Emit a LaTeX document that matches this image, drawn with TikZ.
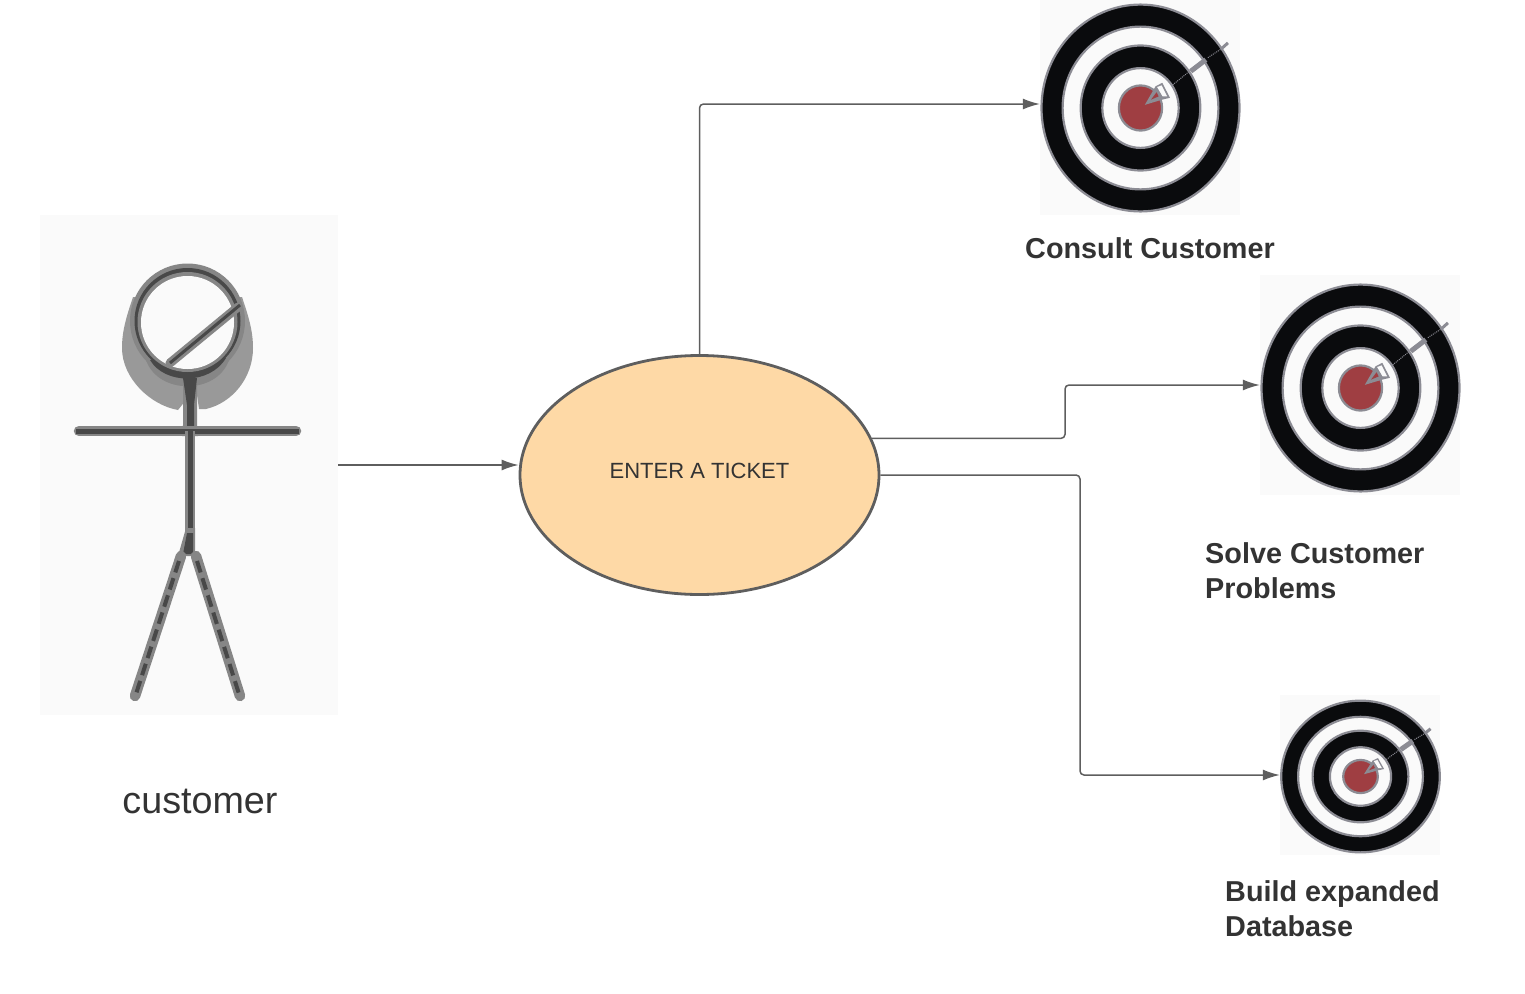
\documentclass[tikz,border=0pt]{standalone}
\usepackage{fontspec}
\setmainfont{Liberation Sans}
\usetikzlibrary{arrows.meta,shapes.geometric}

\definecolor{paper}{HTML}{FAFAFA}
\definecolor{ringblack}{HTML}{0A0B0D}
\definecolor{ringgray}{HTML}{8C8C94}
\definecolor{bullred}{HTML}{9F3E42}
\definecolor{halo}{HTML}{999999}
\definecolor{limbgray}{HTML}{868686}
\definecolor{limbdark}{HTML}{484848}
\definecolor{wire}{HTML}{5E5E5E}
\definecolor{txt}{HTML}{333333}
\definecolor{peach}{HTML}{FED9A6}

\tikzset{
  imgbox/.style={fill=paper,draw=none,inner sep=0pt},
  limbout/.style={limbgray,line width=10.5pt,line cap=round},
  limbin/.style={limbdark,line width=5pt},
  ring/.style={draw=ringgray,line width=2.2pt},
  link/.style={wire,line width=1.5pt,rounded corners=4pt,-{Latex[length=17pt,width=11pt]}},
  goal/.style={anchor=west,align=left,font=\bfseries\fontsize{28.8}{35}\selectfont,text=txt,inner sep=0pt},
  bullseye/.pic={
    \fill[ringblack,ring] (0,0) circle (98.5);
    \fill[paper,ring] (0,0) circle (77.5);
    \fill[ringblack,ring] (0,0) circle (59.5);
    \fill[paper,ring] (0,0) circle (38);
    \fill[bullred,ring] (0,0) circle (21.5);
    % the arrow stuck in the bull
    \fill[ringgray] (4.3,-3) -- (15,-20.7) -- (21.7,-24) -- (29.3,-9.7) -- (21.7,-8) -- cycle;
    \fill[paper] (16.5,-20) -- (21,-21.5) -- (26.5,-11) -- (22,-11) -- cycle;
    \fill[bullred] (10.5,-8) -- (16,-15) -- (18,-11) -- cycle;
    \draw[ringgray,line width=1pt,densely dotted] (32,-22) -- (50,-36);
    \draw[ringgray,line width=5pt] (50,-35) -- (65,-46);
    \draw[ringgray,line width=1pt,densely dotted] (67,-48) -- (80,-56);
    \draw[ringgray,line width=3pt] (80,-56) -- (87,-62);
  }
}

\begin{document}
\begin{tikzpicture}[x=1pt,y=-1pt]
\useasboundingbox (0,0) rectangle (1525,993);

\node[imgbox,minimum width=298pt,minimum height=500pt] (actor) at (189,465) {};
\node[imgbox,minimum width=200pt,minimum height=215pt] (t1) at (1140,107.5) {};
\node[imgbox,minimum width=200pt,minimum height=220pt] (t2) at (1360,385) {};
\node[imgbox,minimum width=160pt,minimum height=160pt] (t3) at (1360,775) {};

\node[ellipse,draw=wire,line width=2.8pt,fill=peach,minimum width=359pt,minimum height=239pt,inner sep=0pt] (tkt) at (699.5,475) {};
\node[text=txt,font=\fontsize{22}{26}\selectfont,inner sep=0pt] (tktlab) at (699.5,471) {ENTER A TICKET};

% stick figure
\fill[halo] (133,297) .. controls (127,315) and (122,330) .. (122,348)
  .. controls (122,378) and (150,405) .. (178,410) -- (186,400) -- (197,395) -- (199,409) -- (206,409)
  .. controls (232,403) and (253,378) .. (253,348)
  .. controls (253,330) and (248,315) .. (242,297) -- cycle;
\fill[limbgray] (187.5,321) circle (57.5);
\fill[limbgray] (146,360) .. controls (158,395) and (217,395) .. (229,360) -- cycle;
\fill[limbdark] (187.5,321) circle (53);
\fill[limbdark] (150,360) .. controls (165,385) and (210,385) .. (226,358) -- cycle;
\fill[limbgray] (187.5,322) circle (50);
\fill[paper] (187.5,322.5) circle (46.5);
\draw[limbgray,line width=9pt,line cap=round] (170,363) -- (238,307);
\draw[limbdark,line width=3pt] (170,363) -- (240,305);
\fill[limbgray] (183,382) -- (197,382) -- (197,425) -- (198,436) -- (182,436) -- (183,425) -- cycle;
\fill[limbdark] (183,378) -- (197,378) -- (194,405) -- (194,432) -- (187,432) -- (187,405) -- cycle;
\draw[limbout] (79,431) -- (296,431);
\draw[limbin] (76,431) -- (299,431);
\draw[limbgray,line width=10pt] (190,431) -- (190,545);
\draw[limbin] (190,431) -- (190,545);
\fill[limbgray] (186,528) -- (195,528) -- (195,556) -- (178,556) -- cycle;
\fill[limbdark] (187,533) -- (193,533) -- (193,554) -- (183,554) -- cycle;
\draw[limbout] (181,556) -- (135,696);
\draw[limbout] (196,556) -- (240,696);
\draw[limbdark,line width=4pt,dash pattern=on 12pt off 6pt] (179,561) -- (136,694);
\draw[limbdark,line width=4pt,dash pattern=on 12pt off 6pt] (197,561) -- (239,694);

% targets
\pic[xscale=1.005,yscale=1.05] at (1140.5,108) {bullseye};
\pic[xscale=1.005,yscale=1.05] at (1360.5,388) {bullseye};
\pic[xscale=0.805,yscale=0.77] at (1360.5,776.5) {bullseye};

% labels
\node[text=txt,font=\fontsize{37.7}{42}\selectfont,inner sep=0pt] (custlab) at (200,801.5) {customer};
\node[goal] (goal1) at (1025,248.5) {Consult Customer};
\node[goal] (goal2) at (1205,570.5) {Solve Customer\\Problems};
\node[goal] (goal3) at (1225,908.5) {Build expanded\\Database};

% connectors
\coordinate (mid) at (1065,385);
\coordinate (low) at (1080,775);
\draw[link] (actor.east) -- (actor.east -| tkt.west);
\draw[link] (tkt.north) -- (t1.178.8 -| tkt.north) -- (t1.178.8);
\draw[link] (tkt.12) -- (tkt.12 -| mid) -- (mid) -- (t2.west);
\draw[link] (tkt.east) -- (tkt.east -| low) -- (low) -- (t3.west);
\end{tikzpicture}
\end{document}
